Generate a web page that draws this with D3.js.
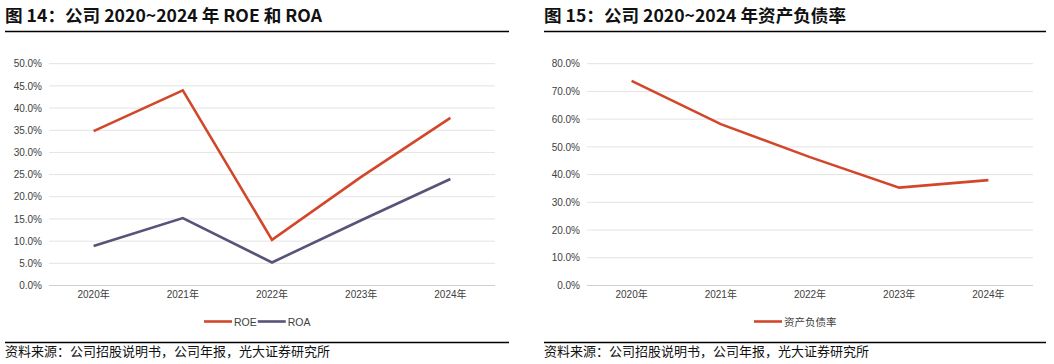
<!DOCTYPE html>
<html><head><meta charset="utf-8">
<script src="https://cdn.jsdelivr.net/npm/d3@7"></script>
<style>
body{margin:0;background:#fff;}
svg{display:block;}
text{font-family:"Liberation Sans",Arial,"Noto Sans CJK SC",sans-serif;}
.ttl{font-family:"Noto Sans CJK SC",sans-serif;font-weight:bold;font-size:17px;fill:#111;}
.src{font-family:"Noto Sans CJK SC",sans-serif;font-size:13px;fill:#111;}
</style></head>
<body>
<script>
const years = ["2020年","2021年","2022年","2023年","2024年"];
const roe = [34.8, 44.0, 10.3, 24.5, 37.8];
const roa = [8.9, 15.2, 5.2, 14.7, 24.0];
const debtRatio = [73.8, 58.2, 46.3, 35.3, 38.0];
const leftTicks = [0,5,10,15,20,25,30,35,40,45,50];
const rightTicks = [0,10,20,30,40,50,60,70,80];
const titles = ["图 14：公司 2020~2024 年 ROE 和 ROA","图 15：公司 2020~2024 年资产负债率"];
const source = "资料来源：公司招股说明书，公司年报，光大证券研究所";

const svg = d3.select("body").append("svg").attr("width",1054).attr("height",364);

function panel(opt){
  const g = svg.append("g");
  const tt = g.append("text").attr("class","ttl").attr("x",opt.x0).attr("y",22).text(opt.title);
  tt.attr("textLength",opt.titleW).attr("lengthAdjust","spacingAndGlyphs");
  g.append("line").attr("x1",opt.x0).attr("x2",opt.x1).attr("y1",31.5).attr("y2",31.5).attr("stroke","#000").attr("stroke-width",1.3);
  g.append("line").attr("x1",opt.x0).attr("x2",opt.x1).attr("y1",342.5).attr("y2",342.5).attr("stroke","#000").attr("stroke-width",1.3);
  g.append("text").attr("class","src").attr("x",opt.x0).attr("y",356).text(source);

  const x = d3.scaleBand().domain(years).range([opt.px0, opt.px1]);
  const y = d3.scaleLinear().domain([0, opt.ymax]).range([285.5, 63.7]);

  const grid = g.append("g");
  grid.selectAll("line").data(opt.ticks).join("line")
    .attr("x1",opt.px0).attr("x2",opt.px1)
    .attr("y1",d=>y(d)).attr("y2",d=>y(d))
    .attr("stroke",d=>d===0?"#d0d0d0":"#e3e3e3").attr("stroke-width",1);

  const ya = d3.axisLeft(y).tickValues(opt.ticks).tickFormat(d=>d.toFixed(1)+"%").tickSize(0).tickPadding(0);
  const yg = g.append("g").attr("transform",`translate(${opt.px0-7},0)`).call(ya);
  yg.select(".domain").remove();
  yg.selectAll("text").attr("font-size",10).attr("fill","#404040").attr("font-family","Liberation Sans, Arial, sans-serif");

  const xa = d3.axisBottom(x).tickSize(0).tickPadding(0);
  const xg = g.append("g").attr("transform",`translate(0,291)`).call(xa);
  xg.select(".domain").remove();
  xg.selectAll("text").attr("font-size",10).attr("fill","#404040").attr("font-family","Liberation Sans, Noto Sans CJK SC, sans-serif");

  const line = d3.line().x((d,i)=>x(years[i])+x.bandwidth()/2).y(d=>y(d));
  opt.series.forEach(s=>{
    g.append("path").datum(s.values).attr("d",line).attr("fill","none")
      .attr("stroke",s.color).attr("stroke-width",2.6).attr("stroke-linejoin","miter");
  });

  let lx = opt.legendX;
  opt.series.forEach(s=>{
    g.append("line").attr("x1",lx).attr("x2",lx+28).attr("y1",321.5).attr("y2",321.5).attr("stroke",s.color).attr("stroke-width",2.6);
    const t = g.append("text").attr("x",lx+30).attr("y",325.5).attr("font-size",10.5).attr("fill","#404040")
      .attr("font-family","Liberation Sans, Noto Sans CJK SC, sans-serif").text(s.name);
    lx += 30 + t.node().getComputedTextLength() + 1;
  });
}

panel({x0:5,x1:509,px0:49,px1:495,ymax:50,ticks:leftTicks,title:titles[0],titleW:317,legendX:204,
  series:[{name:"ROE",values:roe,color:"#d2472a"},{name:"ROA",values:roa,color:"#5a5278"}]});
panel({x0:544,x1:1046,px0:587,px1:1033,ymax:80,ticks:rightTicks,title:titles[1],titleW:302,legendX:754,
  series:[{name:"资产负债率",values:debtRatio,color:"#d2472a"}]});
</script>
</body></html>
